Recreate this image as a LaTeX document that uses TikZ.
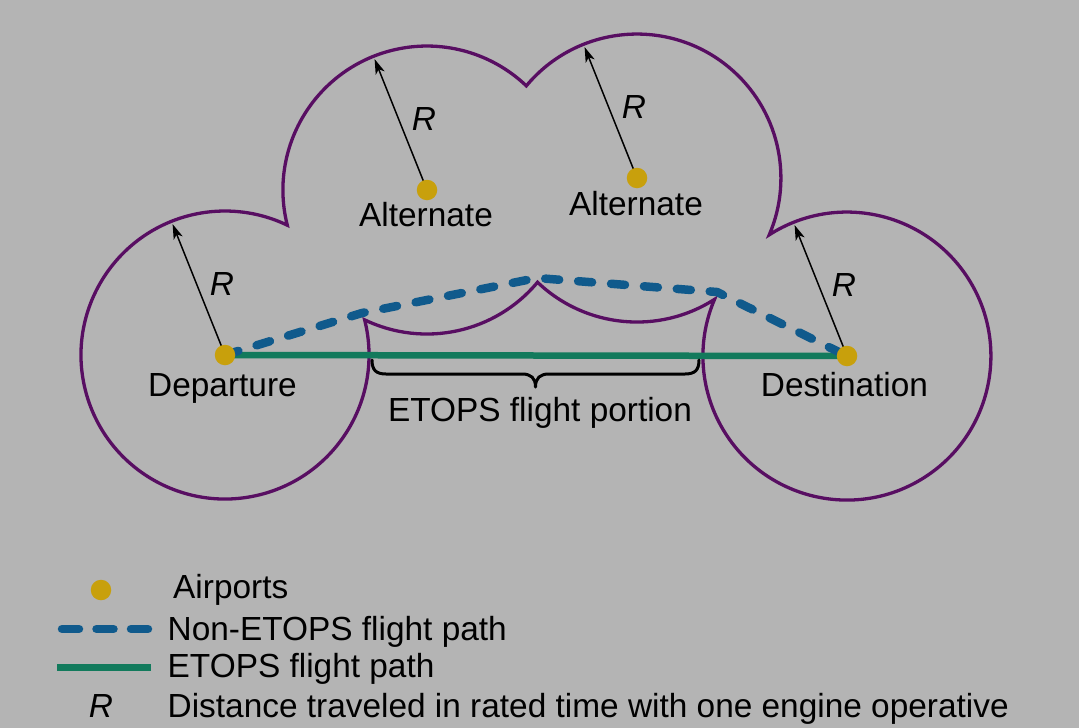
\documentclass[tikz,border=0pt]{standalone}
\usepackage{fontspec}
\setmainfont{Liberation Sans}
\usetikzlibrary{arrows.meta}
\definecolor{bgc}{RGB}{180,180,180}
\definecolor{rangec}{RGB}{88,14,98}
\definecolor{nonetops}{RGB}{16,90,140}
\definecolor{etops}{RGB}{18,122,92}
\definecolor{airport}{RGB}{200,160,12}
\pgfdeclarelayer{bg}
\pgfsetlayers{bg,main}
\tikzset{
  airportdot/.style={circle, fill=airport, minimum size=20.5pt, inner sep=0pt},
  rangeline/.style={draw=rangec, line width=3.3pt},
  radiusarrow/.style={-{Stealth[length=15pt,width=9.5pt,inset=4pt]}, line width=1.5pt, black},
  etopspath/.style={draw=etops, line width=6.5pt},
  nonetopspath/.style={draw=nonetops, line width=8.5pt, line cap=round, dash pattern=on 14pt off 19pt},
  lbl/.style={inner sep=0pt, anchor=base, font=\fontsize{33.4}{40}\selectfont},
  rlbl/.style={inner sep=0pt, font=\fontsize{33.4}{40}\selectfont\itshape},
  bracestyle/.style={line width=3pt, draw=black, line join=round, line cap=round},
}
\begin{document}
\begin{tikzpicture}[x=1pt, y=-1pt]
\useasboundingbox (0,0) rectangle (1079,728);
% airports
\node[airportdot] (dep) at (225,355) {};
\node[airportdot] (alt1) at (427,190) {};
\node[airportdot] (alt2) at (637,178) {};
\node[airportdot] (dest) at (847,356) {};
% waypoints and arrow tips
\coordinate (w1) at (362,313);
\coordinate (w2) at (537,278);
\coordinate (w3) at (717,292);
\coordinate (depR) at (172.6,224.1);
\coordinate (alt1R) at (374.6,59.1);
\coordinate (alt2R) at (584.6,47.1);
\coordinate (destR) at (794.6,225.1);
\begin{pgfonlayer}{bg}
\fill[bgc] (0,0) rectangle (1079,728);
% union of the four range circles
\draw[rangeline] (287.3,225.2)
  arc[start angle=165.86, end angle=313.65, radius=144]
  arc[start angle=219.82, end angle=383.21, radius=144]
  arc[start angle=237.37, end angle=563.21, radius=144]
  arc[start angle=57.37, end angle=133.65, radius=144]
  arc[start angle=39.82, end angle=115.64, radius=144]
  arc[start angle=-14.14, end angle=295.64, radius=144] -- cycle;
% flight paths
\draw[etopspath] (dep.center) -- (dest.center);
\draw[nonetopspath] (dep.center) -- (w1) -- (w2) -- (w3) -- (dest.center);
% brace
\draw[bracestyle] (372,360) .. controls (372,370) and (376,374) .. (386,374)
  -- (522,374) .. controls (531,374) and (535.5,378) .. (535.5,387)
  .. controls (535.5,378) and (540,374) .. (549,374)
  -- (685,374) .. controls (695,374) and (699,370) .. (699,360);
% radius arrows
\draw[radiusarrow] (dep.center) -- (depR);
\draw[radiusarrow] (alt1.center) -- (alt1R);
\draw[radiusarrow] (alt2.center) -- (alt2R);
\draw[radiusarrow] (dest.center) -- (destR);
\end{pgfonlayer}
% labels
\node[rlbl] (depRl) at (222,284) {R};
\node[rlbl] (alt1Rl) at (424,119) {R};
\node[rlbl] (alt2Rl) at (634,107) {R};
\node[rlbl] (destRl) at (844,285) {R};
\node[lbl] (depl) at (222.5,396) {Departure};
\node[lbl] (destl) at (844.5,396) {Destination};
\node[lbl] (alt1l) at (426,226.5) {Alternate};
\node[lbl] (alt2l) at (636,215) {Alternate};
\node[lbl] (etopsl) at (540,421.5) {ETOPS flight portion};
% legend
\node[airportdot] (legdot) at (101,590) {};
\coordinate (legdA) at (62,629);
\coordinate (legdB) at (148,629);
\coordinate (leggA) at (57,667);
\coordinate (leggB) at (151,667);
\draw[nonetopspath, dash pattern=on 17pt off 17.5pt] (legdA) -- (legdB);
\draw[etopspath, line width=7pt] (leggA) -- (leggB);
\node[rlbl, anchor=base] (legR) at (101,717) {R};
\node[lbl, anchor=base west] (legt1) at (173,598) {Airports};
\node[lbl, anchor=base west] (legt2) at (167.5,640) {Non-ETOPS flight path};
\node[lbl, anchor=base west] (legt3) at (167.5,677) {ETOPS flight path};
\node[lbl, anchor=base west] (legt4) at (167.5,717) {Distance traveled in rated time with one engine operative};
\end{tikzpicture}
\end{document}
